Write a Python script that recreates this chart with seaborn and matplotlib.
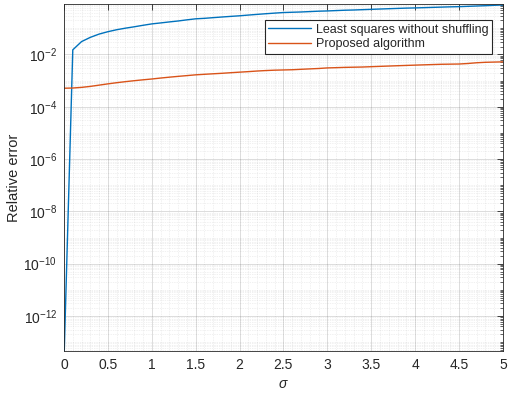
import numpy as np
import pandas as pd
import matplotlib
matplotlib.use("Agg")
import matplotlib.pyplot as plt
import matplotlib.ticker as mticker
import seaborn as sns

# sigma grid and relative errors
sigma = [round(0.1 * i, 1) for i in range(51)]

ls_no_shuffle = [
    2e-14, 0.015, 0.031, 0.045, 0.060, 0.074, 0.088, 0.101, 0.114, 0.130,
    0.147, 0.160, 0.175, 0.190, 0.210, 0.230, 0.240, 0.255, 0.270, 0.285,
    0.300, 0.320, 0.340, 0.360, 0.380, 0.400, 0.410, 0.420, 0.435, 0.450,
    0.460, 0.475, 0.490, 0.500, 0.515, 0.530, 0.545, 0.560, 0.575, 0.590,
    0.600, 0.615, 0.630, 0.645, 0.660, 0.670, 0.690, 0.710, 0.730, 0.755,
    0.780,
]

proposed = [
    5.1e-4, 5.2e-4, 5.5e-4, 6.0e-4, 6.7e-4, 7.5e-4, 8.3e-4, 9.1e-4, 9.9e-4, 1.07e-3,
    1.15e-3, 1.25e-3, 1.35e-3, 1.45e-3, 1.55e-3, 1.66e-3, 1.74e-3, 1.82e-3, 1.9e-3, 2.0e-3,
    2.1e-3, 2.2e-3, 2.32e-3, 2.42e-3, 2.5e-3, 2.55e-3, 2.6e-3, 2.7e-3, 2.8e-3, 2.9e-3,
    3.05e-3, 3.12e-3, 3.2e-3, 3.25e-3, 3.3e-3, 3.4e-3, 3.5e-3, 3.6e-3, 3.7e-3, 3.8e-3,
    3.9e-3, 4.0e-3, 4.1e-3, 4.2e-3, 4.25e-3, 4.3e-3, 4.5e-3, 4.8e-3, 5.0e-3, 5.1e-3,
    5.2e-3,
]

labels = ["Least squares without shuffling", "Proposed algorithm"]
colors = ["#0072BD", "#D95319"]

df = pd.DataFrame({
    "sigma": sigma * 2,
    "err": ls_no_shuffle + proposed,
    "method": [labels[0]] * len(sigma) + [labels[1]] * len(sigma),
})

sns.set_theme(style="white")
plt.rcParams["font.family"] = ["Liberation Sans", "DejaVu Sans"]
plt.rcParams["mathtext.fontset"] = "custom"
plt.rcParams["mathtext.rm"] = "Liberation Sans"
plt.rcParams["mathtext.it"] = "Liberation Sans:italic"

txt = "#262626"

fig = plt.figure(figsize=(5.10, 3.97), dpi=100)
ax = fig.add_axes([0.1255, 0.116, 0.8605, 0.874])

sns.lineplot(data=df, x="sigma", y="err", hue="method", palette=colors,
             linewidth=1.0, ax=ax)

ax.set_yscale("log")
ax.set_xlim(0, 5)
ax.set_ylim(4.6e-14, 0.85)

ax.xaxis.set_major_locator(mticker.MultipleLocator(0.5))
ax.xaxis.set_minor_locator(mticker.MultipleLocator(0.1))
ax.xaxis.set_major_formatter(mticker.FuncFormatter(lambda v, p: "%g" % v))
ax.yaxis.set_major_locator(mticker.FixedLocator([10.0 ** e for e in range(-12, 0, 2)]))
ax.yaxis.set_minor_locator(mticker.LogLocator(base=10, subs=np.arange(1, 10), numticks=40))
ax.yaxis.set_minor_formatter(mticker.NullFormatter())
ax.yaxis.set_major_formatter(mticker.LogFormatterSciNotation())

ax.grid(True, which="major", color=txt, alpha=0.18, linewidth=0.6)
ax.grid(True, which="minor", color=txt, alpha=0.13, linewidth=0.5, linestyle=(0, (1, 1.5)))

ax.tick_params(which="both", direction="in", top=True, right=True,
               colors=txt, labelsize=10, pad=5)
ax.tick_params(which="major", length=4, width=0.6)
ax.tick_params(which="minor", length=2, width=0.5)
ax.tick_params(axis="x", which="minor", length=0)
for s in ax.spines.values():
    s.set_color(txt)
    s.set_linewidth(0.6)

ax.set_xlabel(r"$\sigma$", fontsize=10, color=txt, labelpad=4)
ax.set_ylabel("Relative error", fontsize=10.5, color=txt, labelpad=2)

leg = ax.legend(loc="upper right", bbox_to_anchor=(0.99, 0.972), fontsize=9,
                frameon=True, fancybox=False, framealpha=1, edgecolor=txt,
                handlelength=3.4, handletextpad=0.4, borderpad=0.3, labelspacing=0.2)
leg.get_frame().set_linewidth(0.8)
for t in leg.get_texts():
    t.set_color(txt)

fig.savefig("out.png", dpi=100)
